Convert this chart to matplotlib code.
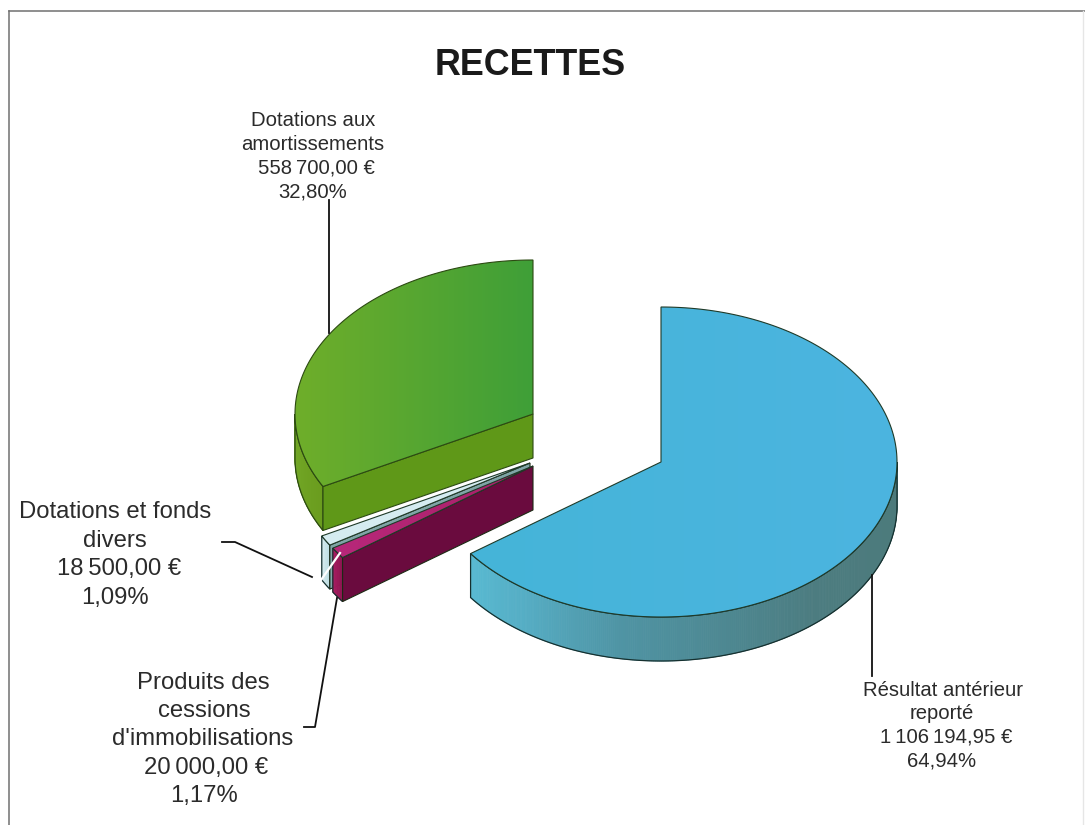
import numpy as np
import matplotlib
matplotlib.use('Agg')
import matplotlib.pyplot as plt
from matplotlib.patches import Polygon
from matplotlib.colors import LinearSegmentedColormap, to_rgb

plt.rcParams['font.family'] = ['Liberation Sans', 'DejaVu Sans']

# data, in drawing order clockwise from 12 o'clock
names = ['Résultat antérieur reporté', "Produits des cessions d'immobilisations",
         'Dotations et fonds divers', 'Dotations aux amortissements']
amounts = [1106194.95, 20000.00, 18500.00, 558700.00]
amount_labels = ['1\u2009106\u2009194,95 €', '20\u2009000,00 €', '18\u2009500,00 €', '558\u2009700,00 €']
pct_labels = ['64,94%', '1,17%', '1,09%', '32,80%']
title = 'RECETTES'

label_blue = ['Résultat antérieur', 'reporté', amount_labels[0], pct_labels[0]]
label_maroon = ['Produits des', 'cessions', "d'immobilisations", amount_labels[1], pct_labels[1]]
label_light = ['Dotations et fonds', 'divers', amount_labels[2], pct_labels[2]]
label_green = ['Dotations aux', 'amortissements', amount_labels[3], pct_labels[3]]

# pie shape, in pixels
rx, ry = 238, 154
depth = 44

total = sum(amounts)
edges = np.cumsum([0] + amounts) / total * 360


def rim(cx, cy, a0, a1, n=120):
    a = np.radians(np.linspace(a0, a1, n))
    return np.column_stack([cx + rx * np.sin(a), cy - ry * np.cos(a)])


def side(ax, cx, cy, a0, a1, angles, colors, z, edge='#16302f'):
    # outer wall, built from thin strips so the shade can change along it
    a0, a1 = max(a0, 90), min(a1, 270)
    cs = np.array([to_rgb(c) for c in colors])
    steps = np.linspace(a0, a1, max(int(a1 - a0) * 2, 2))
    for s0, s1 in zip(steps[:-1], steps[1:]):
        p = rim(cx, cy, s0, s1, 4)
        q = np.vstack([p, p[::-1] + [0, depth]])
        col = [np.interp((s0 + s1) / 2, angles, cs[:, i]) for i in range(3)]
        ax.add_patch(Polygon(q, fc=col, ec=col, lw=0.6, zorder=z))
    p = rim(cx, cy, a0, a1)
    ax.add_patch(Polygon(np.vstack([p, p[::-1] + [0, depth]]), fill=False, ec=edge, lw=0.9, zorder=z + 0.1))


def face(ax, cx, cy, a, color, z, edge='#1c2a14'):
    # flat cut face of a slice
    p = rim(cx, cy, a, a, 1)[0]
    q = [(cx, cy), p, p + [0, depth], (cx, cy + depth)]
    ax.add_patch(Polygon(q, fc=color, ec=edge, lw=0.8, zorder=z))


def top(ax, cx, cy, a0, a1, colors, z, edge='#1f3a28'):
    p = np.vstack([[cx, cy], rim(cx, cy, a0, a1, 200)])
    poly = Polygon(p, fc='none', ec=edge, lw=0.8, zorder=z + 0.1)
    ax.add_patch(poly)
    cmap = LinearSegmentedColormap.from_list('t', colors)
    im = ax.imshow(np.linspace(0, 1, 256).reshape(1, -1), cmap=cmap, aspect='auto', zorder=z,
                   extent=(p[:, 0].min(), p[:, 0].max(), p[:, 1].max(), p[:, 1].min()))
    im.set_clip_path(poly)


def label(ax, lines, centers, first, step, size):
    for i, (s, x) in enumerate(zip(lines, centers)):
        ax.text(x, first + i * step, s, ha='center', va='baseline', fontsize=size, color='#2b2b2b')


fig = plt.figure(figsize=(10.85, 8.25), dpi=100)
ax = fig.add_axes([0, 0, 1, 1])

# green slice
side(ax, 533, 414, edges[3], 360, [242, 270], ['#6a9c1e', '#74aa28'], 1, '#2c4a12')
face(ax, 533, 414, edges[3], '#5f9818', 1.5, '#2c4a12')
top(ax, 533, 414, edges[3], 360, ['#6fae2a', '#3f9f38'], 2, '#2c4a12')

rx, ry = 236, 155

# light slice
side(ax, 530, 463, edges[2], edges[3], [238, 242], ['#b9dbe0', '#d8edf0'], 3)
face(ax, 530, 463, edges[2], '#7fa5a6', 3.5)
top(ax, 530, 463, edges[2], edges[3], ['#d5ecf1', '#d5ecf1'], 4)

# maroon slice
side(ax, 533, 466, edges[1], edges[2], [234, 238], ['#8e1450', '#a81c60'], 5)
face(ax, 533, 466, edges[1], '#6a0b3e', 5.5)
top(ax, 533, 466, edges[1], edges[2], ['#b8287a', '#a82068'], 6)

# blue slice
side(ax, 661, 462, 0, edges[1], [90, 140, 190, 215, 234],
     ['#4c7a7a', '#4c7c80', '#4f94a4', '#55adc4', '#58bad2'], 7)
top(ax, 661, 462, 0, edges[1], ['#45b4d8', '#4cb5e0'], 8)

# leader lines
leaders = [([872, 872], [575, 676]),
           ([329, 329], [200, 333]),
           ([222, 235, 312], [542, 542, 577]),
           ([304, 315, 337], [727, 727, 598])]
for lx, ly in leaders:
    ax.plot(lx, ly, color='#111111', lw=1.3, zorder=10)
ax.plot([340, 321], [553, 580], color='white', lw=1.6, zorder=9)

# page frame from the scan
ax.plot([9, 9], [825, 11], color='#707070', lw=1.1, zorder=11)
ax.plot([9, 1085], [11, 11], color='#707070', lw=1.1, zorder=11)
ax.plot([1083, 1083], [11, 825], color='#e6e6e6', lw=1, zorder=11)

ax.text(530, 75, title, ha='center', va='baseline', fontsize=25.8, fontweight='bold', color='#1a1a1a')
label(ax, label_green, [313, 313, 316, 313], 126, 23.7, 14.6)
label(ax, label_blue, [943, 942, 946, 942], 696, 23.4, 14.6)
label(ax, label_light, [115, 115, 119, 115], 518, 28.6, 17.2)
label(ax, label_maroon, [203, 204, 203, 206, 204], 689, 28.2, 17.2)

ax.set_xlim(0, 1085)
ax.set_ylim(825, 0)
ax.axis('off')
fig.savefig('out.png', dpi=100, facecolor='white')
